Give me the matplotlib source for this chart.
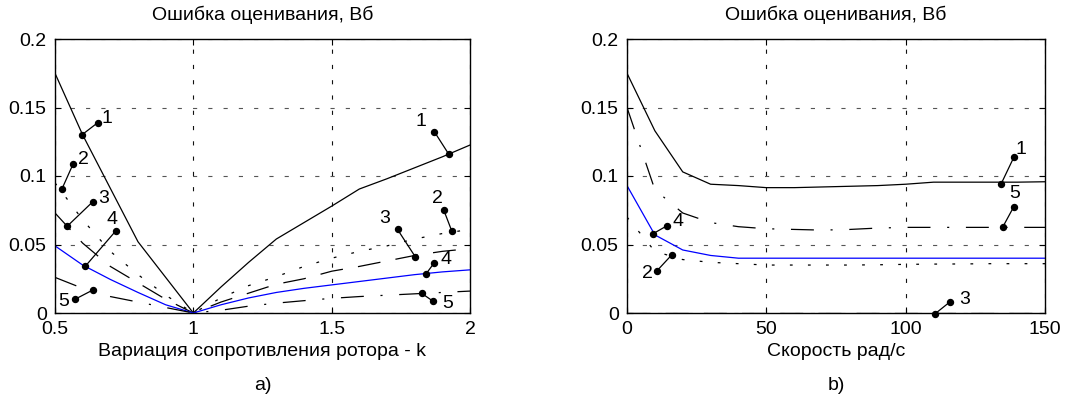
import matplotlib
matplotlib.use("Agg")
import matplotlib.pyplot as plt

plt.rcParams['font.family'] = ['Liberation Sans', 'DejaVu Sans']
plt.rcParams['lines.scale_dashes'] = False

# ---------------- data: panel a) ----------------
k_vals = [0.5, 0.6, 0.7, 0.8, 0.9, 1.0, 1.1, 1.2, 1.3, 1.4, 1.5, 1.6, 1.7, 1.8, 1.9, 2.0]
a_curve1 = [0.175, 0.130, 0.091, 0.052, 0.026, 0.0, 0.019, 0.037, 0.054, 0.066, 0.078, 0.0905, 0.098, 0.106, 0.114, 0.1226]
a_curve2 = [0.095, 0.068, 0.045, 0.028, 0.013, 0.0, 0.011, 0.020, 0.0265, 0.034, 0.040, 0.045, 0.049, 0.054, 0.058, 0.061]
a_curve3 = [0.073, 0.051, 0.034, 0.022, 0.010, 0.0, 0.008, 0.0145, 0.021, 0.025, 0.0305, 0.034, 0.038, 0.042, 0.045, 0.047]
a_curve4 = [0.049, 0.035, 0.0245, 0.0150, 0.006, 0.0, 0.006, 0.011, 0.015, 0.018, 0.0205, 0.023, 0.0255, 0.028, 0.030, 0.0315]
a_curve5 = [0.026, 0.018, 0.012, 0.008, 0.004, 0.0, 0.002, 0.005, 0.0072, 0.009, 0.0107, 0.012, 0.013, 0.014, 0.015, 0.016]

# ---------------- data: panel b) ----------------
w_vals = [0, 10, 20, 30, 40, 50, 60, 70, 80, 90, 100, 110, 120, 130, 140, 150]
b_curve1 = [0.175, 0.133, 0.103, 0.094, 0.093, 0.0915, 0.0915, 0.092, 0.0925, 0.093, 0.094, 0.0955, 0.0955, 0.0955, 0.0955, 0.0958]
b_curve2 = [0.070, 0.045, 0.039, 0.037, 0.036, 0.035, 0.035, 0.035, 0.035, 0.0352, 0.0355, 0.0357, 0.0358, 0.036, 0.036, 0.036]
b_curve3 = [0.0] * 16
b_curve4 = [0.093, 0.057, 0.046, 0.042, 0.040, 0.040, 0.040, 0.040, 0.040, 0.040, 0.040, 0.040, 0.040, 0.040, 0.040, 0.040]
b_curve5 = [0.150, 0.090, 0.073, 0.066, 0.063, 0.0615, 0.061, 0.0605, 0.061, 0.062, 0.0625, 0.0625, 0.0625, 0.0625, 0.0625, 0.0625]

y_ticks = [0, 0.05, 0.1, 0.15, 0.2]
y_ticklabels = ['0', '0.05', '0.1', '0.15', '0.2']
a_xticks = [0.5, 1, 1.5, 2]
a_xticklabels = ['0.5', '1', '1.5', '2']
b_xticks = [0, 50, 100, 150]
b_xticklabels = ['0', '50', '100', '150']

title_text = 'Ошибка оценивания, Вб'
a_xlabel = 'Вариация сопротивления ротора - k'
b_xlabel = 'Скорость рад/с'

# annotation specs: (label, point on curve, outer marker, text position)
a_labels = [
    ('1', (0.597, 0.130), (0.655, 0.139), (0.687, 0.142)),
    ('2', (0.525, 0.0905), (0.566, 0.109), (0.603, 0.112)),
    ('3', (0.545, 0.0635), (0.637, 0.0813), (0.675, 0.0837)),
    ('4', (0.609, 0.034), (0.720, 0.060), (0.705, 0.068)),
    ('5', (0.637, 0.0168), (0.572, 0.010), (0.530, 0.0083)),
    ('1', (1.923, 0.116), (1.871, 0.1324), (1.822, 0.1397)),
    ('2', (1.934, 0.0599), (1.905, 0.0752), (1.883, 0.0837)),
    ('3', (1.802, 0.0411), (1.738, 0.061), (1.690, 0.069)),
    ('4', (1.841, 0.0285), (1.871, 0.0367), (1.913, 0.039)),
    ('5', (1.825, 0.0144), (1.865, 0.0088), (1.919, 0.0071)),
]
b_labels = [
    ('4', (9.2, 0.0577), (14.2, 0.0635), (18.3, 0.0667)),
    ('2', (16.0, 0.0423), (10.8, 0.0309), (7.3, 0.029)),
    ('1', (134.2, 0.094), (138.8, 0.1136), (141.5, 0.1195)),
    ('5', (134.8, 0.0626), (138.8, 0.0776), (139.2, 0.0874)),
    ('3', (110.6, -0.0005), (116.0, 0.0083), (121.0, 0.010)),
]

FS = 14
styles = {
    1: dict(color='black', linestyle='-'),
    2: dict(color='black', linestyle=(0, (2, 11))),
    3: dict(color='black', linestyle=(0, (16.5, 11))),
    4: dict(color='#0000ff', linestyle='-'),
    5: dict(color='black', linestyle=(0, (16.5, 12, 1.5, 12))),
}

fig = plt.figure(figsize=(10.66, 4.04), dpi=100)
ax1 = fig.add_axes([55 / 1066, 1 - 313 / 404, 415 / 1066, 274 / 404])
ax2 = fig.add_axes([627 / 1066, 1 - 313 / 404, 418 / 1066, 274 / 404])


def style_axes(ax, xlim, xticks, xticklabels):
    ax.set_xlim(*xlim)
    ax.set_ylim(0, 0.2)
    ax.set_xticks(xticks)
    ax.set_xticklabels(xticklabels)
    ax.set_yticks(y_ticks)
    ax.set_yticklabels(y_ticklabels)
    ax.tick_params(direction='in', length=4, width=0.8, top=True, right=True,
                   labelsize=FS, pad=6)
    for s in ax.spines.values():
        s.set_linewidth(1.0)
    ax.xaxis.grid(True, color='#111111', linestyle=(0, (3, 8)), linewidth=0.8)
    ax.yaxis.grid(True, color='#555555', linestyle=(0, (3, 8)), linewidth=0.8)
    ax.set_axisbelow(True)


def draw_labels(ax, specs):
    for lab, p_curve, p_out, p_txt in specs:
        ax.plot([p_curve[0], p_out[0]], [p_curve[1], p_out[1]], color='black',
                linewidth=0.9, marker='o', markersize=4.3, clip_on=False, zorder=5)
        ax.text(p_txt[0], p_txt[1], lab, fontsize=FS, ha='center', va='center', zorder=6)


a_series = [a_curve1, a_curve2, a_curve3, a_curve4, a_curve5]
for i, ys in enumerate(a_series, start=1):
    ax1.plot(k_vals, ys, linewidth=0.9, **styles[i])
style_axes(ax1, (0.5, 2), a_xticks, a_xticklabels)
draw_labels(ax1, a_labels)

b_series = [b_curve1, b_curve2, b_curve3, b_curve4, b_curve5]
for i, ys in enumerate(b_series, start=1):
    ax2.plot(w_vals, ys, linewidth=0.9, **styles[i])
style_axes(ax2, (0, 150), b_xticks, b_xticklabels)
draw_labels(ax2, b_labels)

for ax, xl, tag in [(ax1, a_xlabel, 'a)'), (ax2, b_xlabel, 'b)')]:
    bb = ax.get_position()
    cx = (bb.x0 + bb.x1) / 2
    fig.text(cx, 1 - 15 / 404, title_text, ha='center', va='center', fontsize=FS)
    fig.text(cx, 1 - 352 / 404, xl, ha='center', va='center', fontsize=FS)
    fig.text(cx, 1 - 386 / 404, tag, ha='center', va='center', fontsize=FS)

fig.savefig('out.png', dpi=100)
